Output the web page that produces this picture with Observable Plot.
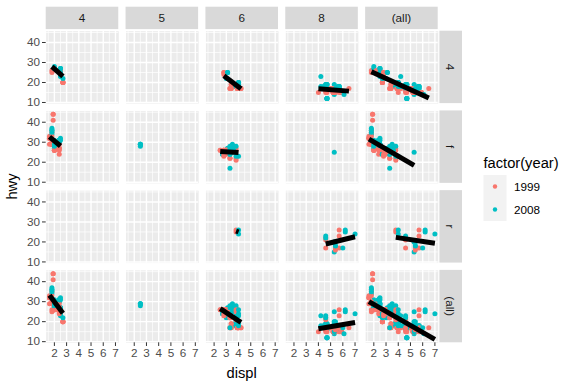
<!DOCTYPE html>
<html><head><meta charset="utf-8">
<script src="https://cdn.jsdelivr.net/npm/d3@7"></script>
<script src="https://cdn.jsdelivr.net/npm/@observablehq/plot@0.6"></script>
<style>body{margin:0;background:#fff} #chart{width:574px;height:388px}</style>
</head><body><div id="chart"></div>
<script>
// Facet levels and ticks
const cylLevels = ["4", "5", "6", "8", "(all)"];
const drvLevels = ["4", "f", "r", "(all)"];
const yearLevels = ["1999", "2008"];
const xTicks = [2, 3, 4, 5, 6, 7];
const xMinor = [1.5, 2.5, 3.5, 4.5, 5.5, 6.5];
const yTicks = [10, 20, 30, 40];
const yMinor = [15, 25, 35, 45];

// Points per facet: [displ, hwy, year]
const cyl4_drv4 = [[1.8,26,1999],[1.8,25,1999],[2.0,28,2008],[2.0,27,2008],[2.5,25,1999],[2.5,24,1999],[2.5,27,2008],[2.5,25,2008],[2.5,26,2008],[2.5,23,2008],[2.2,26,1999],[2.5,26,1999],[2.5,26,1999],[2.5,26,1999],[2.5,27,2008],[2.5,25,2008],[2.5,27,2008],[2.5,24,2008],[2.7,20,1999],[2.7,20,1999],[2.7,20,1999],[2.7,20,1999],[2.7,22,2008]];
const cyl4_drvf = [[1.8,29,1999],[1.8,29,1999],[2.0,31,2008],[2.0,30,2008],[2.4,27,1999],[2.4,30,2008],[2.4,24,1999],[1.6,33,1999],[1.6,32,1999],[1.6,32,1999],[1.6,29,1999],[1.6,32,1999],[1.8,34,2008],[1.8,36,2008],[1.8,36,2008],[2.0,29,2008],[2.4,26,1999],[2.4,27,1999],[2.4,30,2008],[2.4,31,2008],[2.0,26,1999],[2.0,29,1999],[2.0,28,2008],[2.0,27,2008],[2.4,29,1999],[2.4,27,1999],[2.5,31,2008],[2.5,32,2008],[2.2,29,1999],[2.2,27,1999],[2.4,31,2008],[2.4,31,2008],[2.2,27,1999],[2.2,29,1999],[2.4,31,2008],[2.4,31,2008],[1.8,30,1999],[1.8,33,1999],[1.8,35,1999],[1.8,37,2008],[1.8,35,2008],[2.0,29,1999],[2.0,26,1999],[2.0,29,2008],[2.0,29,2008],[1.9,44,1999],[2.0,29,1999],[2.0,26,1999],[2.0,29,2008],[2.0,29,2008],[1.9,44,1999],[1.9,41,1999],[2.0,29,1999],[2.0,26,1999],[1.8,29,1999],[1.8,29,1999],[1.8,29,1999],[2.0,29,2008],[2.0,28,2008]];
const cyl5_drvf = [[2.5,29,2008],[2.5,29,2008],[2.5,28,2008],[2.5,29,2008]];
const cyl6_drv4 = [[2.8,25,1999],[2.8,25,1999],[3.1,25,2008],[3.1,25,2008],[2.8,24,1999],[3.1,25,2008],[3.7,19,2008],[3.7,18,2008],[3.9,17,1999],[3.9,17,1999],[3.9,17,1999],[4.0,17,1999],[4.0,19,1999],[4.0,17,1999],[4.0,19,2008],[4.2,17,1999],[4.2,17,1999],[3.0,22,2008],[3.7,19,2008],[4.0,20,1999],[4.0,17,1999],[4.0,19,2008],[3.3,17,1999],[3.3,17,1999],[4.0,20,2008],[3.4,19,1999],[3.4,17,1999],[4.0,20,2008],[3.4,17,1999],[3.4,19,1999],[4.0,18,2008],[4.0,20,2008]];
const cyl6_drvf = [[2.8,26,1999],[2.8,26,1999],[3.1,27,2008],[3.1,26,1999],[3.5,29,2008],[3.6,26,2008],[3.0,24,1999],[3.3,22,1999],[3.3,22,1999],[3.3,24,2008],[3.3,24,2008],[3.3,17,2008],[3.8,22,1999],[3.8,21,1999],[3.8,23,2008],[4.0,23,2008],[2.5,26,1999],[2.5,26,1999],[3.3,28,2008],[2.7,24,2008],[2.7,24,2008],[2.7,24,2008],[3.5,27,2008],[3.5,26,2008],[3.0,26,1999],[3.0,25,1999],[3.5,25,2008],[3.1,26,1999],[3.8,26,1999],[3.8,27,1999],[3.8,28,2008],[3.0,26,1999],[3.0,26,1999],[3.5,28,2008],[3.0,26,1999],[3.0,26,1999],[3.3,27,2008],[2.8,24,1999],[2.8,23,1999],[2.8,26,1999],[2.8,26,1999],[3.6,26,2008]];
const cyl6_drvr = [[3.8,26,1999],[3.8,25,1999],[4.0,26,2008],[4.0,24,2008]];
const cyl8_drv4 = [[4.2,23,2008],[5.3,19,2008],[5.3,14,2008],[5.7,15,1999],[6.5,17,1999],[4.7,19,2008],[4.7,19,2008],[4.7,12,2008],[5.2,17,1999],[5.2,15,1999],[4.7,17,2008],[4.7,12,2008],[4.7,17,2008],[5.2,16,1999],[5.7,18,2008],[5.9,15,1999],[4.7,16,2008],[4.7,12,2008],[4.7,17,2008],[4.7,16,2008],[5.2,15,1999],[5.2,15,1999],[5.7,17,2008],[5.7,17,2008],[5.9,15,1999],[5.9,15,1999],[4.6,19,2008],[5.0,17,1999],[4.6,16,1999],[4.6,16,1999],[4.6,17,2008],[5.4,15,1999],[5.4,17,2008],[4.7,17,1999],[4.7,12,2008],[4.7,19,2008],[5.7,18,2008],[6.1,14,2008],[4.0,15,1999],[4.2,18,2008],[4.4,18,2008],[4.6,15,1999],[4.6,19,2008],[5.0,17,1999],[5.6,18,2008],[4.7,17,2008],[4.7,15,1999],[5.7,18,2008]];
const cyl8_drvf = [[5.3,25,2008]];
const cyl8_drvr = [[5.3,20,2008],[5.3,15,2008],[5.3,20,2008],[5.7,17,1999],[6.0,17,2008],[5.7,26,1999],[5.7,23,1999],[6.2,26,2008],[6.2,25,2008],[7.0,24,2008],[4.6,17,1999],[5.4,17,1999],[5.4,18,2008],[4.6,21,1999],[4.6,22,1999],[4.6,23,2008],[4.6,22,2008],[5.4,20,2008],[5.4,17,1999],[5.4,16,1999],[5.4,18,2008]];

const facetTable = [
  ["4", "4", cyl4_drv4], ["4", "f", cyl4_drvf], ["5", "f", cyl5_drvf],
  ["6", "4", cyl6_drv4], ["6", "f", cyl6_drvf], ["6", "r", cyl6_drvr],
  ["8", "4", cyl8_drv4], ["8", "f", cyl8_drvf], ["8", "r", cyl8_drvr]
];

const base = facetTable.flatMap(([cyl, drv, arr]) =>
  arr.map(([displ, hwy, year]) => ({displ, hwy, year: String(year), cyl, drv})));
// ggplot margins = TRUE
const data = base.concat(
  base.map(d => ({...d, cyl: "(all)"})),
  base.map(d => ({...d, drv: "(all)"})),
  base.map(d => ({...d, cyl: "(all)", drv: "(all)"}))
);
// Regression only where displ varies within the panel
const varying = d3.rollup(data, v => new Set(v.map(d => d.displ)).size > 1, d => d.cyl + "|" + d.drv);
const regData = data.filter(d => varying.get(d.cyl + "|" + d.drv));
const cells = cylLevels.flatMap(cyl => drvLevels.map(drv => ({cyl, drv})));

const font = "'Liberation Sans', Arial, Helvetica, sans-serif";
const chart = Plot.plot({
  width: 574, height: 388,
  marginLeft: 45.7, marginRight: 136.3, marginTop: 30.7, marginBottom: 45.7,
  style: {fontFamily: font, fontSize: "11.7px", background: "white", overflow: "visible"},
  fx: {domain: cylLevels, paddingInner: 0.0914, paddingOuter: 0, round: false, axis: null, label: null},
  fy: {domain: drvLevels, paddingInner: 0.0916, paddingOuter: 0, round: false, axis: null, label: null},
  x: {domain: [1.33, 7.27], label: null},
  y: {domain: [9.43, 45.65], label: null},
  color: {domain: yearLevels, range: ["#F8766D", "#00BFC4"]},
  marks: [
    Plot.frame({fill: "#EBEBEB"}),
    Plot.dot(cells, {fx: "cyl", fy: "drv", r: 0}),
    Plot.gridX(xMinor, {stroke: "white", strokeOpacity: 1, strokeWidth: 0.7}),
    Plot.gridY(yMinor, {stroke: "white", strokeOpacity: 1, strokeWidth: 0.7}),
    Plot.gridX(xTicks, {stroke: "white", strokeOpacity: 1, strokeWidth: 1.4}),
    Plot.gridY(yTicks, {stroke: "white", strokeOpacity: 1, strokeWidth: 1.4}),
    Plot.axisX(xTicks, {tickSize: 3.7, tickPadding: 2.5, fontSize: 11.7, stroke: "#333333", fill: "#4D4D4D", label: null}),
    Plot.axisY(yTicks, {tickSize: 3.7, tickPadding: 2.5, fontSize: 11.7, stroke: "#333333", fill: "#4D4D4D", label: null}),
    Plot.dot(data, {x: "displ", y: "hwy", fx: "cyl", fy: "drv", fill: "year", r: 2.5}),
    Plot.linearRegressionY(regData, {x: "displ", y: "hwy", fx: "cyl", fy: "drv", ci: 0, stroke: "black", strokeWidth: 5, strokeLinecap: "butt"})
  ]
});

const svg = d3.select(chart);
const fxScale = chart.scale("fx"), fyScale = chart.scale("fy"), colorScale = chart.scale("color");
const bw = fxScale.bandwidth, bh = fyScale.bandwidth;
const panelTop = fyScale.apply(drvLevels[0]);
const panelRight = fxScale.apply(cylLevels[cylLevels.length - 1]) + bw;
const panelLeft = fxScale.apply(cylLevels[0]);
const panelBottom = fyScale.apply(drvLevels[drvLevels.length - 1]) + bh;

// top strips
const stripTop = svg.append("g");
cylLevels.forEach(c => {
  const x0 = fxScale.apply(c);
  stripTop.append("rect").attr("x", x0).attr("y", panelTop - 24).attr("width", bw).attr("height", 22.4).attr("fill", "#D9D9D9");
  stripTop.append("text").attr("x", x0 + bw / 2).attr("y", panelTop - 12.8)
    .attr("text-anchor", "middle").attr("dominant-baseline", "central")
    .attr("font-size", 11.7).attr("fill", "#1A1A1A").attr("font-family", font).text(c);
});
// right strips
const stripRight = svg.append("g");
drvLevels.forEach(d => {
  const y0 = fyScale.apply(d);
  stripRight.append("rect").attr("x", panelRight + 1.7).attr("y", y0).attr("width", 22.6).attr("height", bh).attr("fill", "#D9D9D9");
  stripRight.append("text").attr("transform", `translate(${panelRight + 13},${y0 + bh / 2}) rotate(90)`)
    .attr("text-anchor", "middle").attr("dominant-baseline", "central")
    .attr("font-size", 11.7).attr("fill", "#1A1A1A").attr("font-family", font).text(d);
});
// axis titles
svg.append("text").attr("x", (panelLeft + panelRight) / 2).attr("y", panelBottom + 36)
  .attr("text-anchor", "middle").attr("font-size", 14.7).attr("fill", "black").attr("font-family", font).text("displ");
svg.append("text").attr("transform", `translate(17,${(panelTop + panelBottom) / 2}) rotate(-90)`)
  .attr("text-anchor", "middle").attr("font-size", 14.7).attr("fill", "black").attr("font-family", font).text("hwy");
// legend
const legendG = svg.append("g").attr("transform", "translate(483.5,0)");
legendG.append("text").attr("x", 0).attr("y", 167.5).attr("text-anchor", "start")
  .attr("font-size", 14.7).attr("fill", "black").attr("font-family", font).text("factor(year)");
yearLevels.forEach((yr, i) => {
  const ky = 175 + i * 23;
  legendG.append("rect").attr("x", 0).attr("y", ky).attr("width", 23).attr("height", 23).attr("fill", "#F2F2F2");
  legendG.append("circle").attr("cx", 11.5).attr("cy", ky + 11.5).attr("r", 2.2).attr("fill", colorScale.apply(yr));
  legendG.append("text").attr("x", 30.5).attr("y", ky + 11.5).attr("text-anchor", "start").attr("dominant-baseline", "central")
    .attr("font-size", 11.7).attr("fill", "black").attr("font-family", font).text(yr);
});

document.getElementById("chart").appendChild(chart);
</script>
</body></html>
